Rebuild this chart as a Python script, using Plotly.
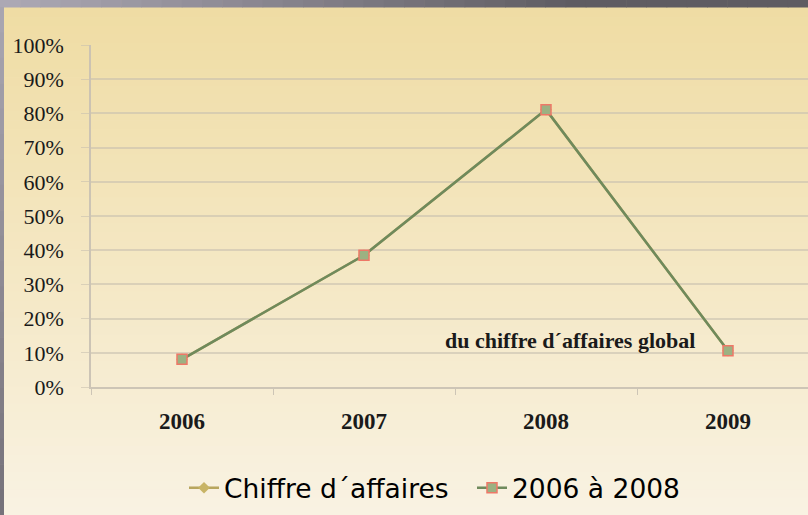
import plotly.graph_objects as go

years = ["2006", "2007", "2008", "2009"]
chiffre = [0.081, 0.385, 0.811, 0.106]
periode = [0.081, 0.385, 0.811, 0.106]
y_ticks = [0, 0.1, 0.2, 0.3, 0.4, 0.5, 0.6, 0.7, 0.8, 0.9, 1.0]
y_ticklabels = ["0%", "10%", "20%", "30%", "40%", "50%", "60%", "70%", "80%", "90%", "100%"]
note = "du chiffre d´affaires global"

W, H = 808, 515
L, R, T, B = 91, 0, 45, 128
pw, ph = W - L - R, H - T - B

def px_x(px):
    return (px - L) / pw

def px_y(py):
    return (H - B - py) / ph

def lerp(c1, c2, t):
    return "rgb(%d,%d,%d)" % tuple(round(a + (b - a) * t) for a, b in zip(c1, c2))

shapes = []
# vertical background gradient
top_c, bot_c = (239, 220, 163), (249, 242, 226)
n = 60
for i in range(n):
    y0 = i * H / n
    y1 = (i + 1) * H / n + 0.6
    shapes.append(dict(type="rect", xref="paper", yref="paper", layer="below",
                       x0=px_x(0), x1=px_x(W), y0=px_y(y1), y1=px_y(y0),
                       line=dict(width=0), fillcolor=lerp(top_c, bot_c, i / (n - 1))))
# top gray bar
m = 40
for i in range(m):
    x0 = i * W / m
    x1 = (i + 1) * W / m + 0.6
    t = i / (m - 1)
    c = lerp((172, 168, 180), (95, 92, 98), min(1, t * 1.4))
    shapes.append(dict(type="rect", xref="paper", yref="paper", layer="below",
                       x0=px_x(x0), x1=px_x(x1), y0=px_y(7.5), y1=px_y(0),
                       line=dict(width=0), fillcolor=c))
# left gray strip
k = 20
for i in range(k):
    y0 = 7 + i * (H - 7) / k
    y1 = 7 + (i + 1) * (H - 7) / k + 0.6
    c = lerp((168, 165, 176), (118, 114, 122), i / (k - 1))
    shapes.append(dict(type="rect", xref="paper", yref="paper", layer="below",
                       x0=px_x(0), x1=px_x(4), y0=px_y(y1), y1=px_y(y0),
                       line=dict(width=0), fillcolor=c))

fig = go.Figure()
fig.add_trace(go.Scatter(
    x=years, y=chiffre, name="Chiffre d´affaires", mode="lines+markers",
    line=dict(color="#B8A65E", width=2.5),
    marker=dict(symbol="diamond", size=9, color="#C8B466", line=dict(width=0)),
))
fig.add_trace(go.Scatter(
    x=years, y=periode, name="2006 à 2008", mode="lines+markers",
    line=dict(color="#6F8A5C", width=2.5),
    marker=dict(symbol="square", size=10, color="#9CB182",
                line=dict(color="#EE7867", width=1.5)),
))

fig.add_annotation(x=px_x(570), y=px_y(340), xref="paper", yref="paper",
                   text="<b>" + note + "</b>", showarrow=False,
                   font=dict(family="Liberation Serif, serif", size=22, color="#1a1a1a"),
                   xanchor="center", yanchor="middle")

grid_c = "rgba(200,192,175,0.6)"
fig.update_layout(
    width=W, height=H,
    margin=dict(l=L, r=R, t=T, b=B, pad=0),
    paper_bgcolor="#F4E8C6",
    plot_bgcolor="rgba(0,0,0,0)",
    shapes=shapes,
    showlegend=True,
    legend=dict(orientation="h", x=px_x(472), y=px_y(488), xanchor="center", yanchor="middle",
                font=dict(family="DejaVu Sans, sans-serif", size=26.5, color="#000000"),
                bgcolor="rgba(0,0,0,0)", entrywidth=243, entrywidthmode="pixels",
                tracegroupgap=0),
    xaxis=dict(type="category", range=[-0.5, -0.5 + pw / 182.0],
               showgrid=False, showline=True, linecolor="rgba(200,192,178,0.9)", linewidth=1.5,
               ticks="outside", tickson="boundaries", ticklen=6, tickcolor="rgba(200,192,178,0.9)",
               tickfont=dict(family="Liberation Serif, serif", size=23, color="#1a1a1a", weight="bold"),
               ticklabelstandoff=13, fixedrange=True),
    yaxis=dict(range=[0, 1.0], tickvals=y_ticks, ticktext=y_ticklabels,
               showgrid=True, gridcolor=grid_c, gridwidth=1.5, zeroline=False,
               showline=True, linecolor="rgba(200,192,178,0.9)", linewidth=1.5,
               ticks="outside", ticklen=8, tickcolor=grid_c,
               tickfont=dict(family="Liberation Serif, serif", size=22, color="#1a1a1a"),
               ticklabelstandoff=13, fixedrange=True),
)

fig.write_html("out.html", config={"displayModeBar": False},
               post_script="document.body.style.margin='0';document.body.style.overflow='hidden';")
